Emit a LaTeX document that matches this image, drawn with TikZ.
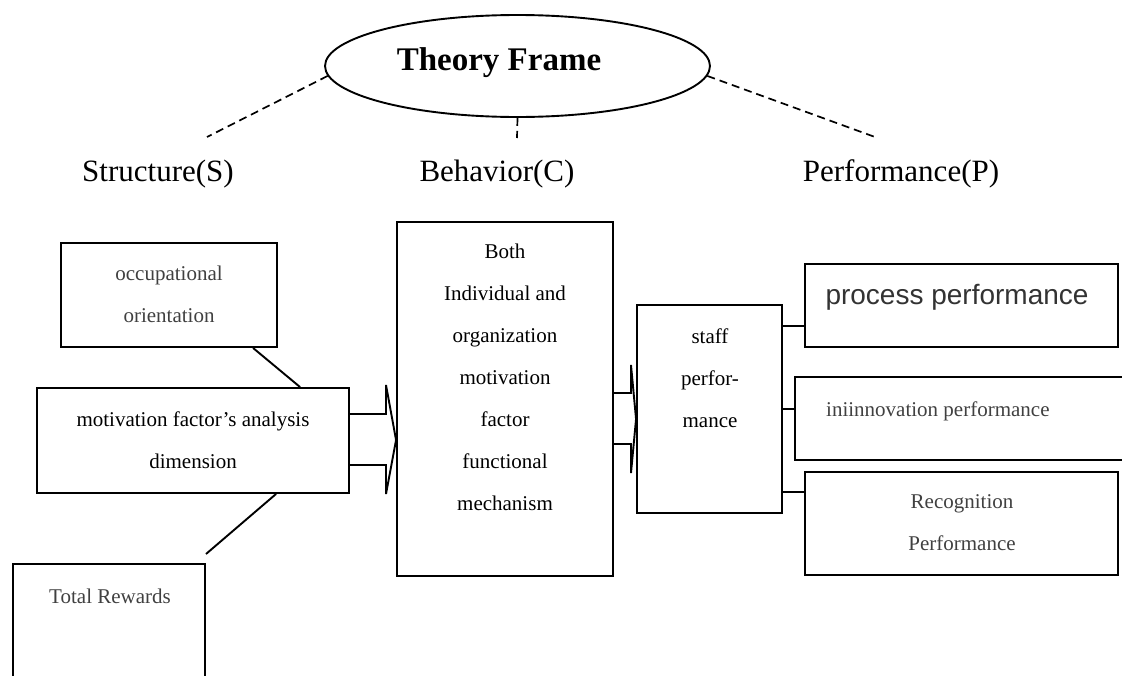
\documentclass[tikz,border=0pt]{standalone}
\usepackage{fontspec}
\setmainfont{Liberation Serif}
\newfontfamily\arialf{Liberation Sans}
\usetikzlibrary{shapes.geometric,calc}
\begin{document}
\begin{tikzpicture}[x=1pt,y=-1pt,
  box/.style={draw,line width=1.9pt,rectangle,inner sep=0pt},
  hollow/.style={rectangle,inner sep=0pt},
  txt/.style={inner sep=0pt,align=center,font=\fontsize{21}{42}\selectfont},
  gtxt/.style={txt,text=black!75},
  lbl/.style={inner sep=0pt,anchor=base,font=\fontsize{31}{37}\selectfont},
  link/.style={line width=1.9pt},
  dashlink/.style={line width=1.7pt,dash pattern=on 8pt off 5pt},
  blockarrow/.style={line width=1.9pt,line join=miter}]
\useasboundingbox (0,0) rectangle (1122,675);

% theory frame
\node[ellipse,draw,line width=1.9pt,minimum width=385pt,minimum height=102pt,inner sep=0pt] (tf) at (517.5,66) {};
\node[inner sep=0pt,anchor=base,font=\bfseries\fontsize{33}{40}\selectfont] (tft) at (499,70) {Theory Frame};

\node[lbl] (s) at (158,181) {Structure(S)};
\node[lbl] (c) at (497,181) {Behavior(C)};
\node[lbl] (p) at (901,181) {Performance(P)};

\coordinate (sEnd) at (207,137);
\coordinate (cEnd) at (517,138);
\coordinate (pEnd) at (875,137);
\draw[dashlink] (tf.183) -- (sEnd);
\draw[dashlink] (tf.south) -- (cEnd);
\draw[dashlink] (tf.-3) -- (pEnd);

% left column
\node[box,minimum width=216pt,minimum height=104pt] (occ) at (169,295) {};
\node[gtxt] (occt) at (169,294) {occupational\\orientation};

\node[box,minimum width=312pt,minimum height=105pt] (mot) at (193,440.5) {};
\node[txt] (mott) at (193,440) {motivation factor’s analysis\\dimension};

\node[hollow,minimum width=192pt,minimum height=126pt] (tot) at (109,627) {};
\draw[link] (tot.south west) -- (tot.north west) -- (tot.north east) -- (tot.south east);
\node[gtxt,anchor=base] (tott) at (110,603) {Total Rewards};

\coordinate (totEnd) at (206,554);
\draw[link] ($(occ.south west)+(193,0)$) -- ($(mot.north west)+(264,0)$);
\draw[link] ($(mot.south west)+(240,0)$) -- (totEnd);

% middle
\node[box,minimum width=216pt,minimum height=354pt] (big) at (505,399) {};
\node[txt] (bigt) at (505,377) {Both\\Individual and\\organization\\motivation\\factor\\functional\\mechanism};

\node[box,minimum width=145pt,minimum height=208pt] (staff) at (709.5,409) {};
\node[txt] (stafft) at (710,378) {staff\\perfor-\\mance};

\draw[blockarrow] (mot.east |- 0,414) -- (386,414) -- (386,385) -- (big.west |- 0,440)
  -- (386,494) -- (386,465) -- (mot.east |- 0,465);
\draw[blockarrow] (big.east |- 0,393) -- (631,393) -- (631,365) -- (staff.west |- 0,419)
  -- (631,473) -- (631,444) -- (big.east |- 0,444);

% right column
\node[box,minimum width=313pt,minimum height=83pt] (proc) at (961.5,305.5) {};
\node[inner sep=0pt,anchor=base,text=black!80,font=\arialf\fontsize{28}{34}\selectfont] (proct) at (957,304) {process performance};

\node[hollow,minimum width=335pt,minimum height=83pt] (innov) at (962.5,418.5) {};
\draw[link] (innov.north east) -- (innov.north west) -- (innov.south west) -- (innov.south east);
\node[gtxt,anchor=base west] (innovt) at (826,416) {iniinnovation performance};

\node[box,minimum width=313pt,minimum height=103pt] (rec) at (961.5,523.5) {};
\node[gtxt] (rect) at (962,523) {Recognition\\Performance};

\draw[link] (staff.east |- 0,326) -- (proc.west |- 0,326);
\draw[link] (staff.east |- 0,409) -- (innov.west |- 0,409);
\draw[link] (staff.east |- 0,492) -- (rec.west |- 0,492);
\end{tikzpicture}
\end{document}
